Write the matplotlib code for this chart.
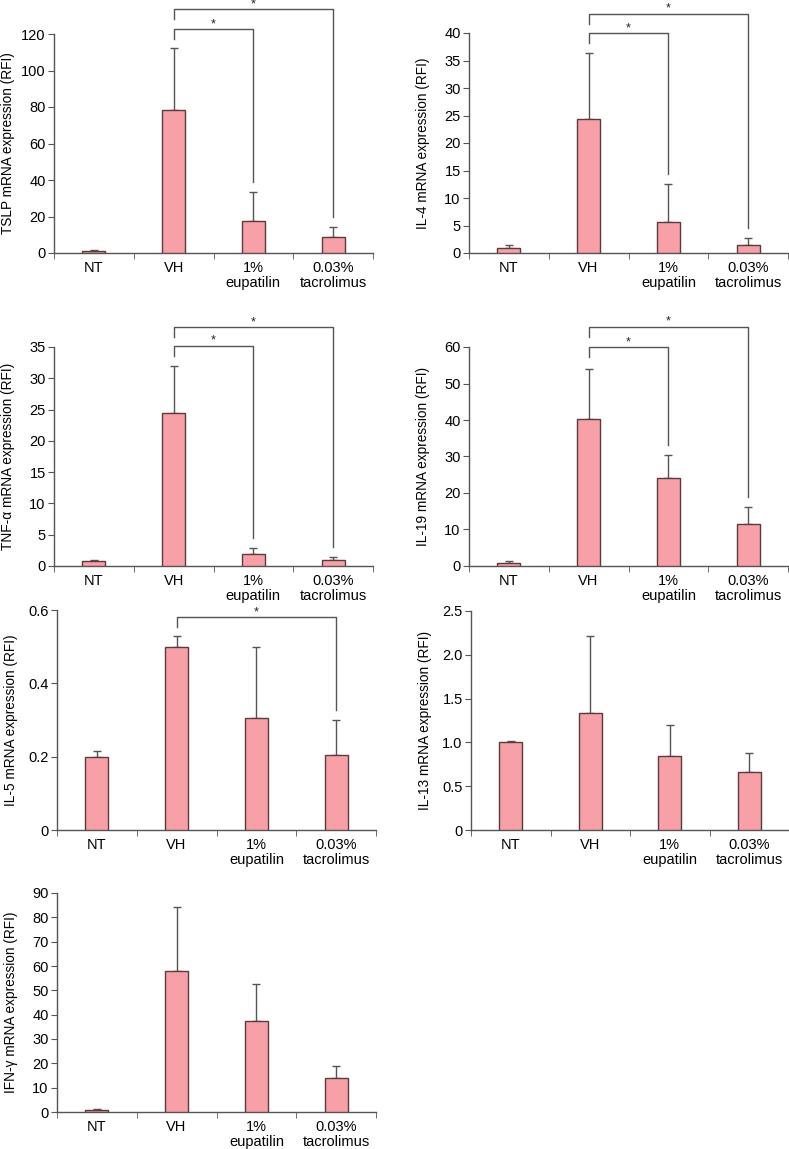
import matplotlib.pyplot as plt
import numpy as np

plt.rcParams['font.family'] = ['Liberation Sans', 'DejaVu Sans']

# Datos
groups = ["NT", "VH", "1%\neupatilin", "0.03%\ntacrolimus"]

tslp_mean = [1.0, 78.5, 17.5, 9.0]
tslp_err = [0.8, 34.0, 15.8, 5.3]

il4_mean = [0.9, 24.3, 5.6, 1.4]
il4_err = [0.5, 12.0, 6.9, 1.3]

tnfa_mean = [0.8, 24.4, 1.9, 0.9]
tnfa_err = [0.1, 7.5, 0.9, 0.5]

il19_mean = [0.9, 40.2, 24.0, 11.5]
il19_err = [0.4, 13.7, 6.5, 4.7]

il5_mean = [0.198, 0.50, 0.305, 0.205]
il5_err = [0.017, 0.03, 0.195, 0.095]

il13_mean = [1.01, 1.34, 0.85, 0.66]
il13_err = [0.01, 0.87, 0.35, 0.22]

ifng_mean = [1.0, 57.8, 37.5, 13.8]
ifng_err = [0.4, 26.5, 15.0, 4.9]

tslp_ticks = [0, 20, 40, 60, 80, 100, 120]
il4_ticks = [0, 5, 10, 15, 20, 25, 30, 35, 40]
tnfa_ticks = [0, 5, 10, 15, 20, 25, 30, 35]
il19_ticks = [0, 10, 20, 30, 40, 50, 60]
il5_ticks = [0, 0.2, 0.4, 0.6]
il5_labels = ["0", "0.2", "0.4", "0.6"]
il13_ticks = [0, 0.5, 1.0, 1.5, 2.0, 2.5]
il13_labels = ["0", "0.5", "1.0", "1.5", "2.0", "2.5"]
ifng_ticks = [0, 10, 20, 30, 40, 50, 60, 70, 80, 90]

W, H = 789, 1149
fig = plt.figure(figsize=(W / 100, H / 100), dpi=100)

bar_color = '#F8A0A8'
edge_color = '#5a3b3b'
axis_color = '#555555'


def make_panel(box, mean, err, ticks, ylabel, labels=None, brackets=()):
    # box en pixeles: izquierda, derecha, arriba, abajo
    x0, x1, top, bottom = box
    ax = fig.add_axes([x0 / W, 1 - bottom / H, (x1 - x0) / W, (bottom - top) / H])
    x = np.arange(len(mean)) + 0.5
    ax.bar(x, mean, width=0.29, color=bar_color, edgecolor=edge_color, lw=1, zorder=3)
    ax.errorbar(x, mean, yerr=[np.zeros(len(err)), err], fmt='none',
                ecolor=axis_color, elinewidth=1, capsize=3, capthick=1, zorder=2)
    ymax = ticks[-1]
    ax.set_xlim(0, len(mean))
    ax.set_ylim(0, ymax)
    ax.set_yticks(ticks)
    if labels is not None:
        ax.set_yticklabels(labels)
    ax.set_xticks(x)
    ax.set_xticklabels(groups, fontsize=10.5, linespacing=1.05)
    ax.set_xticks(np.arange(len(mean) + 1), minor=True)
    ax.tick_params(axis='x', which='major', length=0, pad=6)
    ax.tick_params(axis='x', which='minor', length=4, direction='out', color=axis_color)
    ax.tick_params(axis='y', length=4, direction='out', color=axis_color, labelsize=10.5, pad=2)
    for s in ['top', 'right']:
        ax.spines[s].set_visible(False)
    for s in ['left', 'bottom']:
        ax.spines[s].set_color(axis_color)
        ax.spines[s].set_linewidth(1)
    ax.set_ylabel(ylabel, fontsize=9.8)
    ax.yaxis.set_label_coords(-39 / (x1 - x0), 0.5)

    # corchetes de significancia
    unit = ymax / (bottom - top)  # valor por pixel
    for i, j, yb in brackets:
        y_right = mean[j] + err[j] + 10 * unit
        ax.plot([x[i], x[i], x[j], x[j]], [yb - 10 * unit, yb, yb, y_right],
                color=axis_color, lw=1, clip_on=False)
        ax.text((x[i] + x[j]) / 2, yb + 5 * unit, '*', ha='center', va='center',
                fontsize=9, color='#222222')
    return ax


make_panel((54, 373, 34, 253), tslp_mean, tslp_err, tslp_ticks,
           "TSLP mRNA expression (RFI)", brackets=[(1, 2, 122.7), (1, 3, 133.7)])
make_panel((469, 788, 33, 253), il4_mean, il4_err, il4_ticks,
           "IL-4 mRNA expression (RFI)", brackets=[(1, 2, 40.0), (1, 3, 43.5)])
make_panel((54, 373, 347, 566), tnfa_mean, tnfa_err, tnfa_ticks,
           "TNF-α mRNA expression (RFI)", brackets=[(1, 2, 35.2), (1, 3, 38.2)])
make_panel((469, 788, 347, 566), il19_mean, il19_err, il19_ticks,
           "IL-19 mRNA expression (RFI)", brackets=[(1, 2, 60.0), (1, 3, 65.5)])
make_panel((57, 376, 610, 830), il5_mean, il5_err, il5_ticks,
           "IL-5 mRNA expression (RFI)", labels=il5_labels, brackets=[(1, 3, 0.581)])
make_panel((471, 789, 611, 830), il13_mean, il13_err, il13_ticks,
           "IL-13 mRNA expression (RFI)", labels=il13_labels)
make_panel((57, 376, 893, 1112), ifng_mean, ifng_err, ifng_ticks,
           "IFN-γ mRNA expression (RFI)")

fig.savefig('out.png', dpi=100)
